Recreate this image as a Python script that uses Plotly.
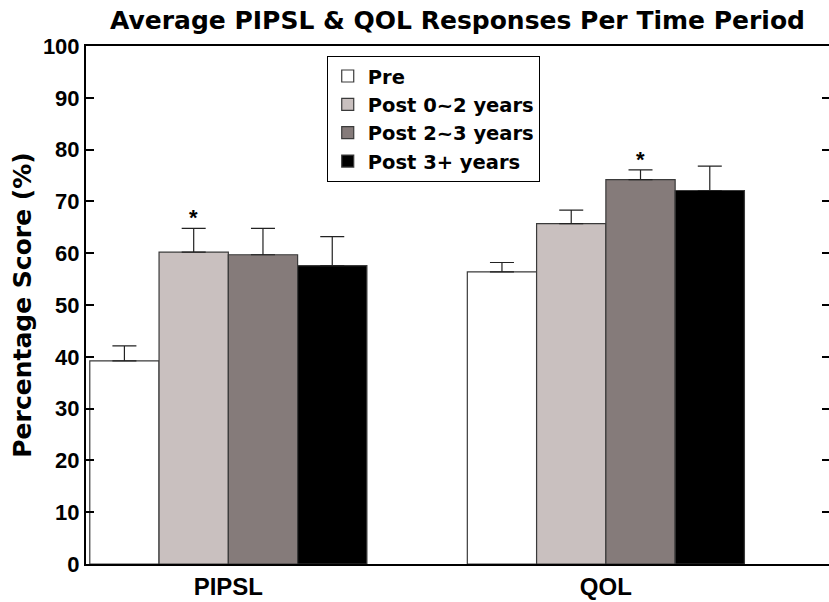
import plotly.graph_objects as go

categories = ["PIPSL", "QOL"]
series_names = ["Pre", "Post 0~2 years", "Post 2~3 years", "Post 3+ years"]
pre = [39.2, 56.4]
post_0_2 = [60.2, 65.7]
post_2_3 = [59.7, 74.2]
post_3p = [57.6, 72.1]
err_pre = [2.9, 1.8]
err_0_2 = [4.6, 2.6]
err_2_3 = [5.1, 1.9]
err_3p = [5.6, 4.7]
significant = [(0, 1), (1, 2)]  # (category index, series index) marked with *
y_ticks = [0, 10, 20, 30, 40, 50, 60, 70, 80, 90, 100]

values = [pre, post_0_2, post_2_3, post_3p]
errors = [err_pre, err_0_2, err_2_3, err_3p]
colors = ["#ffffff", "#c9c0bf", "#857b7a", "#000000"]

FONT = "Liberation Sans, Arial, Helvetica, sans-serif"
WIDE = "DejaVu Sans, Liberation Sans, sans-serif"
bargap = 0.266
n = len(series_names)
bw = (1 - bargap) / n

fig = go.Figure()
xs = list(range(len(categories)))
for i in range(n):
    fig.add_trace(go.Bar(
        x=xs, y=values[i], name="<b>%s</b>" % series_names[i], legendgroup="g%d" % i,
        marker=dict(color=colors[i], line=dict(color="#3a3a3a", width=1.2)),
        error_y=dict(type="data", array=errors[i], arrayminus=[0] * len(categories),
                     symmetric=False, color="#222222", thickness=1.2, width=12),
    ))

annotations = []
for ci, si in significant:
    xpos = ci + (si - (n - 1) / 2) * bw
    annotations.append(dict(x=xpos, y=values[si][ci] + errors[si][ci], xref="x", yref="y",
                            text="<b>*</b>", showarrow=False, yanchor="bottom", yshift=-4,
                            font=dict(family=FONT, size=22, color="black")))

fig.add_trace(go.Scatter(x=[0], y=[0], yaxis="y2", showlegend=False, mode="markers",
                         marker=dict(opacity=0), hoverinfo="skip"))

fig.update_layout(
    width=829, height=602,
    margin=dict(l=86, r=0, t=46, b=38),
    paper_bgcolor="white", plot_bgcolor="white",
    barmode="group", bargap=bargap, bargroupgap=0,
    title=dict(text="<b>Average PIPSL & QOL Responses Per Time Period</b>",
               x=0.5, xref="paper", xanchor="center", y=0.966, yref="container",
               yanchor="middle", automargin=False,
               font=dict(family=WIDE, size=25, color="black")),
    xaxis=dict(tickmode="array", tickvals=xs, ticktext=["<b>%s</b>" % c for c in categories],
               range=[-0.377, 1.591], showline=True, linecolor="black", linewidth=2,
               mirror=True, ticks="", showgrid=False, zeroline=False, ticklabelstandoff=0,
               automargin=False,
               tickfont=dict(family=FONT, size=24, color="black")),
    yaxis=dict(range=[0, 100], tickvals=y_ticks, ticktext=["<b>%d</b>" % v for v in y_ticks],
               showline=True, linecolor="black", linewidth=2, ticks="inside",
               ticklen=8, tickwidth=2, tickcolor="black", showgrid=False, zeroline=False,
               automargin=False,
               tickfont=dict(family=FONT, size=22, color="black"),
               title=dict(text="<b>Percentage Score (%)</b>", standoff=4,
                          font=dict(family=WIDE, size=25, color="black"))),
    yaxis2=dict(range=[0, 100], overlaying="y", side="right", tickvals=y_ticks,
                showticklabels=False, ticks="inside", ticklen=7, tickwidth=2,
                tickcolor="black", showline=False, showgrid=False, zeroline=False,
                automargin=False),
    legend=dict(x=0.324, xanchor="left", y=0.981, yanchor="top",
                bordercolor="black", borderwidth=1, bgcolor="white",
                font=dict(family=WIDE, size=19.5, color="black"),
                tracegroupgap=0, itemwidth=30),
    annotations=annotations,
)

fig.write_html("out.html", config={"displayModeBar": False},
               post_script="document.body.style.margin='0px';"
                           "document.body.style.overflow='hidden';")
